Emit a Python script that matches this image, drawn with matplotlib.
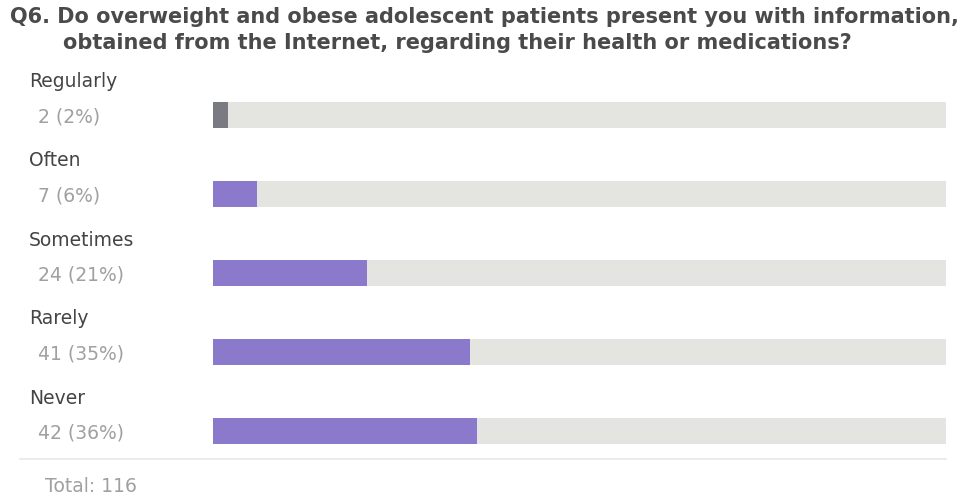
import matplotlib
matplotlib.use("Agg")
import matplotlib.pyplot as plt

plt.rcParams['font.family'] = ['DejaVu Sans']

# survey answers
answers = ['Regularly', 'Often', 'Sometimes', 'Rarely', 'Never']
counts = [2, 7, 24, 41, 42]
percents = [2, 6, 21, 35, 36]
total = 116

title_lines = [
    'Q6. Do overweight and obese adolescent patients present you with information,',
    'obtained from the Internet, regarding their health or medications?',
]

W, H = 972, 499
fig = plt.figure(figsize=(W / 100, H / 100), dpi=100)
fig.patch.set_facecolor('white')

# axes covering the bar area, y in pixel units (top = 0)
left, right = 213, 946
ax = fig.add_axes([left / W, 0, (right - left) / W, 1])
ax.set_xlim(0, 100)
ax.set_ylim(H, 0)
ax.axis('off')

bar_h = 26
first_y = 115
step = 79
for i, (name, n, p) in enumerate(zip(answers, counts, percents)):
    yc = first_y + i * step
    ax.barh(yc, 100, height=bar_h, color='#e4e4e1', edgecolor='none')
    col = '#7a7a82' if i == 0 else '#8b7acb'
    ax.barh(yc, p, height=bar_h, color=col, edgecolor='none')
    fig.text(29 / W, 1 - (yc - 33) / H, name, fontsize=13.5, color='#444444',
             va='center', ha='left')
    fig.text(38 / W, 1 - (yc + 2) / H, f'{n} ({p}%)', fontsize=13.5,
             color='#a0a0a0', va='center', ha='left')

# separator line under the last bar
fig.add_artist(plt.Line2D([20 / W, right / W], [1 - 459 / H, 1 - 459 / H],
                          color='#e8e8e8', lw=1.2))
fig.text(45 / W, 1 - 487 / H, f'Total: {total}', fontsize=13.5, color='#a0a0a0',
         va='center', ha='left')

fig.text(10 / W, 1 - 17 / H, title_lines[0], fontsize=15, fontweight='bold',
         color='#4a4a4a', va='center', ha='left')
fig.text(63 / W, 1 - 43 / H, title_lines[1], fontsize=15, fontweight='bold',
         color='#4a4a4a', va='center', ha='left')

fig.savefig('out.png', dpi=100, facecolor='white')
